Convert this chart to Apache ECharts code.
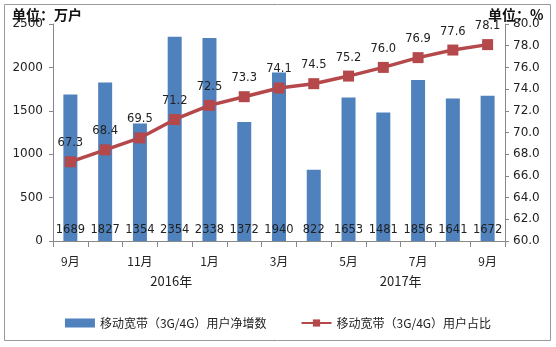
<!DOCTYPE html>
<html><head><meta charset="utf-8">
<script src="https://cdn.jsdelivr.net/npm/echarts@6/dist/echarts.min.js"></script>
<style>html,body{margin:0;padding:0;background:#fff}#c{width:556px;height:347px}</style>
</head><body><div id="c"></div>
<script>
var categories = ['9月','10月','11月','12月','1月','2月','3月','4月','5月','6月','7月','8月','9月'];
var netAdds = [1689,1827,1354,2354,2338,1372,1940,822,1653,1481,1856,1641,1672];
var share = [67.3,68.4,69.5,71.2,72.5,73.3,74.1,74.5,75.2,76.0,76.9,77.6,78.1];
var years = [{text:'2016年', at:2.9},{text:'2017年', at:9.5}];
var barName = '移动宽带（3G/4G）用户净增数';
var lineName = '移动宽带（3G/4G）用户占比';
var font = '"Noto Sans CJK SC", sans-serif';
var numFont = '"DejaVu Sans", sans-serif';
var chart = echarts.init(document.getElementById('c'));
var option = {
  animation:false,
  textStyle:{fontFamily:font},
  grid:{left:53,right:51,top:24,bottom:106},
  legend:{bottom:13,left:'center',itemGap:34,itemWidth:30,itemHeight:9,
    textStyle:{fontSize:12,color:'#222',fontFamily:font},
    data:[{name:barName,icon:'rect'},{name:lineName}]},
  xAxis:{type:'category',data:categories,
    axisLine:{lineStyle:{color:'#888'}},
    axisTick:{show:true,alignWithLabel:false,interval:0,length:6,lineStyle:{color:'#888'}},
    axisLabel:{interval:1,color:'#222',fontSize:12,margin:14,fontFamily:font}},
  yAxis:[{type:'value',min:0,max:2500,interval:500,
      axisLine:{show:true,lineStyle:{color:'#888'}},
      axisTick:{show:true,length:4,lineStyle:{color:'#888'}},
      splitLine:{show:false},
      axisLabel:{color:'#222',fontSize:12,margin:10,fontFamily:numFont,formatter:function(v){return String(v);}}},
    {type:'value',min:60,max:80,interval:2,position:'right',
      axisLine:{show:true,lineStyle:{color:'#888'}},
      axisTick:{show:true,length:4,lineStyle:{color:'#888'}},
      splitLine:{show:false},
      axisLabel:{color:'#222',fontSize:12,margin:8,formatter:function(v){return v.toFixed(1);},fontFamily:numFont}}],
  series:[
    {name:barName,type:'bar',data:netAdds,barWidth:14,yAxisIndex:0,
      itemStyle:{color:'#4F81BD'},
      label:{show:true,position:'insideBottom',distance:5,color:'#222',fontSize:11.5,fontFamily:numFont}},
    {name:lineName,type:'line',data:share,yAxisIndex:1,
      symbol:'rect',symbolSize:11,
      lineStyle:{color:'#B5484A',width:3.5},
      itemStyle:{color:'#B5484A'},
      label:{show:true,position:'top',distance:7,color:'#222',fontSize:11.5,formatter:function(p){return p.value.toFixed(1);},fontFamily:numFont}}
  ]
};
chart.setOption(option);
var gy = chart.convertToPixel({gridIndex:0},[0,0])[1];
var g = [
  {type:'rect',shape:{x:4.5,y:4.5,width:546,height:336},style:{fill:'none',stroke:'#999',lineWidth:1},z:-1},
  {type:'text',left:12,top:8,style:{text:'单位：万户',font:'bold 14px '+font,fill:'#111'}},
  {type:'text',left:488,top:8,style:{text:'单位：%',font:'bold 14px '+font,fill:'#111'}}
];
years.forEach(function(y){
  var x0 = chart.convertToPixel({xAxisIndex:0},Math.floor(y.at));
  var x1 = chart.convertToPixel({xAxisIndex:0},Math.floor(y.at)+1);
  var x = x0 + (x1-x0)*(y.at-Math.floor(y.at));
  g.push({type:'text',x:x,y:gy+34,style:{text:y.text,font:'13px '+font,fill:'#222',align:'center',verticalAlign:'top'}});
});
chart.setOption({graphic:g});
</script></body></html>
